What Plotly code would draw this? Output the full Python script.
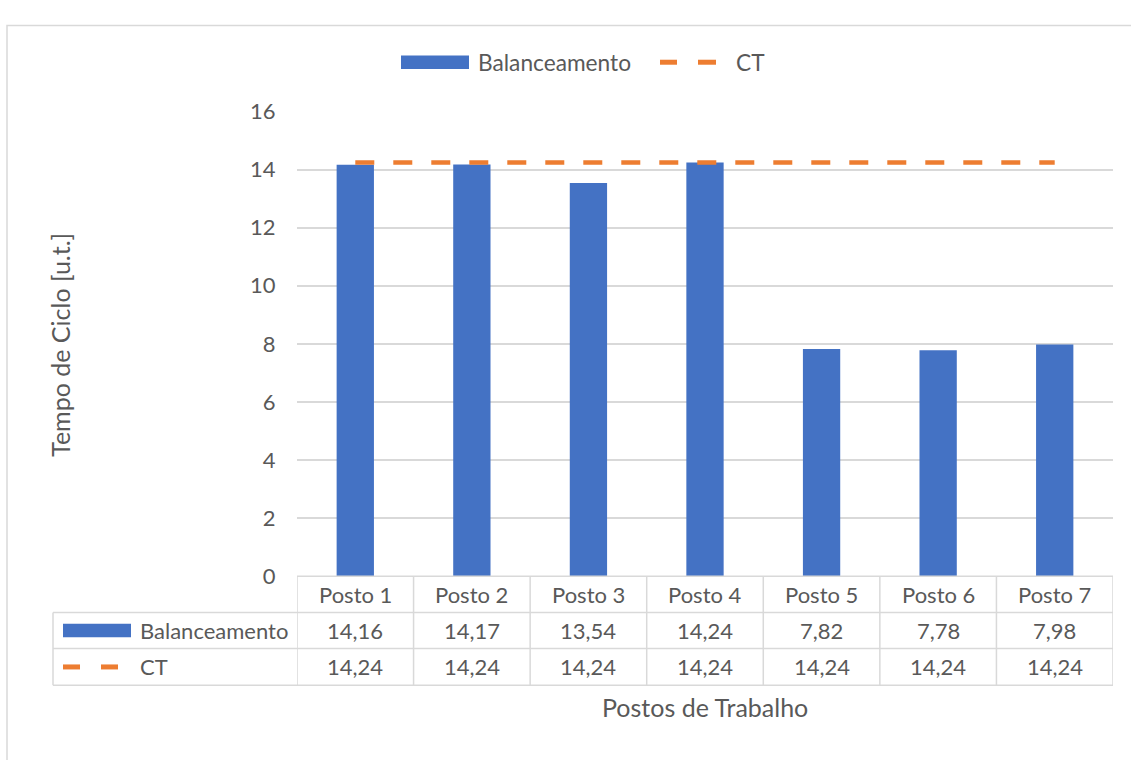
import plotly.graph_objects as go

categories = ["Posto 1", "Posto 2", "Posto 3", "Posto 4", "Posto 5", "Posto 6", "Posto 7"]
balanceamento = [14.16, 14.17, 13.54, 14.24, 7.82, 7.78, 7.98]
ct = [14.24, 14.24, 14.24, 14.24, 14.24, 14.24, 14.24]
y_ticks = [0, 2, 4, 6, 8, 10, 12, 14, 16]

W, H = 1131, 760
BLUE = "#4472C4"
ORANGE = "#ED7D31"
GRID = "#D9D9D9"
TXT = "#595959"
FONT = "Lato"
FS = 22
FS_LEG = 22.7
FS_TITLE = 25


def px(x):
    return x / W


def py(y):
    return 1 - y / H


def fmt(v):
    return f"{v:.2f}".replace(".", ",")


fig = go.Figure()
fig.add_trace(go.Bar(x=categories, y=balanceamento, name="Balanceamento",
                     marker=dict(color=BLUE, line=dict(width=0)), width=0.32))
fig.add_trace(go.Scatter(x=categories, y=ct, name="CT", mode="lines",
                         line=dict(color=ORANGE, width=4.5, dash="19px,19px")))

shapes = []
annotations = []

# outer chart border
shapes.append(dict(type="rect", xref="paper", yref="paper", x0=px(7), x1=px(1145), y0=py(12), y1=py(775),
                   line=dict(color=GRID, width=1.5), layer="below"))

# top legend
shapes.append(dict(type="rect", xref="paper", yref="paper", x0=px(401), x1=px(469), y0=py(43), y1=py(57),
                   fillcolor=BLUE, line=dict(width=0)))
for a, b in [(660, 677), (698, 716)]:
    shapes.append(dict(type="line", xref="paper", yref="paper", x0=px(a), x1=px(b), y0=py(50), y1=py(50),
                       line=dict(color=ORANGE, width=5)))
annotations.append(dict(xref="paper", yref="paper", x=px(476), y=py(50), text="Balanceamento",
                        showarrow=False, xanchor="left", yanchor="middle", font=dict(size=FS_LEG)))
annotations.append(dict(xref="paper", yref="paper", x=px(734), y=py(50), text="CT",
                        showarrow=False, xanchor="left", yanchor="middle", font=dict(size=FS_LEG)))

# data table
row_lines = [583, 620.5, 658, 696]
lc = dict(color=GRID, width=1.5)
shapes.append(dict(type="line", xref="paper", yref="paper", x0=px(297), x1=px(1113),
                   y0=py(row_lines[0]), y1=py(row_lines[0]), line=lc))
for yy in row_lines[1:]:
    shapes.append(dict(type="line", xref="paper", yref="paper", x0=px(53), x1=px(1113),
                       y0=py(yy), y1=py(yy), line=lc))
shapes.append(dict(type="line", xref="paper", yref="paper", x0=px(53), x1=px(53),
                   y0=py(row_lines[1]), y1=py(row_lines[3]), line=lc))
for k in range(len(categories) + 1):
    shapes.append(dict(type="line", xref="x", yref="paper", x0=k - 0.5, x1=k - 0.5,
                       y0=py(row_lines[0]), y1=py(row_lines[3]), line=lc))

row_c = [(row_lines[i] + row_lines[i + 1]) / 2 for i in range(3)]
for i, c in enumerate(categories):
    annotations.append(dict(xref="x", yref="paper", x=i, y=py(row_c[0]), text=c, showarrow=False,
                            xanchor="center", yanchor="middle"))
    annotations.append(dict(xref="x", yref="paper", x=i, y=py(row_c[1]), text=fmt(balanceamento[i]),
                            showarrow=False, xanchor="center", yanchor="middle"))
    annotations.append(dict(xref="x", yref="paper", x=i, y=py(row_c[2]), text=fmt(ct[i]),
                            showarrow=False, xanchor="center", yanchor="middle"))

# table legend keys
shapes.append(dict(type="rect", xref="paper", yref="paper", x0=px(63), x1=px(131),
                   y0=py(row_c[1] - 7), y1=py(row_c[1] + 7), fillcolor=BLUE, line=dict(width=0)))
for a, b in [(63, 80), (101, 118)]:
    shapes.append(dict(type="line", xref="paper", yref="paper", x0=px(a), x1=px(b),
                       y0=py(row_c[2]), y1=py(row_c[2]), line=dict(color=ORANGE, width=5)))
annotations.append(dict(xref="paper", yref="paper", x=px(138), y=py(row_c[1]), text="Balanceamento",
                        showarrow=False, xanchor="left", yanchor="middle"))
annotations.append(dict(xref="paper", yref="paper", x=px(138), y=py(row_c[2]), text="CT",
                        showarrow=False, xanchor="left", yanchor="middle"))

# axis titles
annotations.append(dict(xref="paper", yref="paper", x=px(705), y=py(719), text="Postos de Trabalho",
                        showarrow=False, xanchor="center", yanchor="middle", font=dict(size=FS_TITLE)))
annotations.append(dict(xref="paper", yref="paper", x=px(60), y=py(343), text="Tempo de Ciclo [u.t.]",
                        showarrow=False, xanchor="center", yanchor="middle", textangle=-90,
                        font=dict(size=FS_TITLE)))

fig.update_layout(
    width=W, height=H,
    margin=dict(l=0, r=0, t=0, b=0),
    paper_bgcolor="white", plot_bgcolor="white",
    showlegend=False,
    font=dict(family=FONT, size=FS, color=TXT),
    bargap=0.68,
    shapes=shapes,
    annotations=annotations,
    xaxis=dict(domain=[px(297), px(1113)], range=[-0.5, 6.5], showticklabels=False,
               showgrid=False, zeroline=False, showline=False, ticks=""),
    yaxis=dict(domain=[py(583), py(101)], range=[0, 16], tickvals=y_ticks,
               showgrid=True, gridcolor=GRID, gridwidth=1.5, zeroline=False, showline=False,
               ticks="outside", ticklen=16, tickcolor="rgba(0,0,0,0)",
               tickfont=dict(family=FONT, size=FS, color=TXT)),
)

post = (
    "document.documentElement.style.cssText='margin:0;padding:0;overflow:hidden;height:760px;';"
    "document.body.style.cssText='margin:0;padding:0;overflow:hidden;height:760px;';"
    "var d=document.getElementById('{plot_id}');"
    "d.style.position='absolute';d.style.top='0px';d.style.left='0px';"
)

fig.write_html("out.html", config={"displayModeBar": False}, post_script=post)
